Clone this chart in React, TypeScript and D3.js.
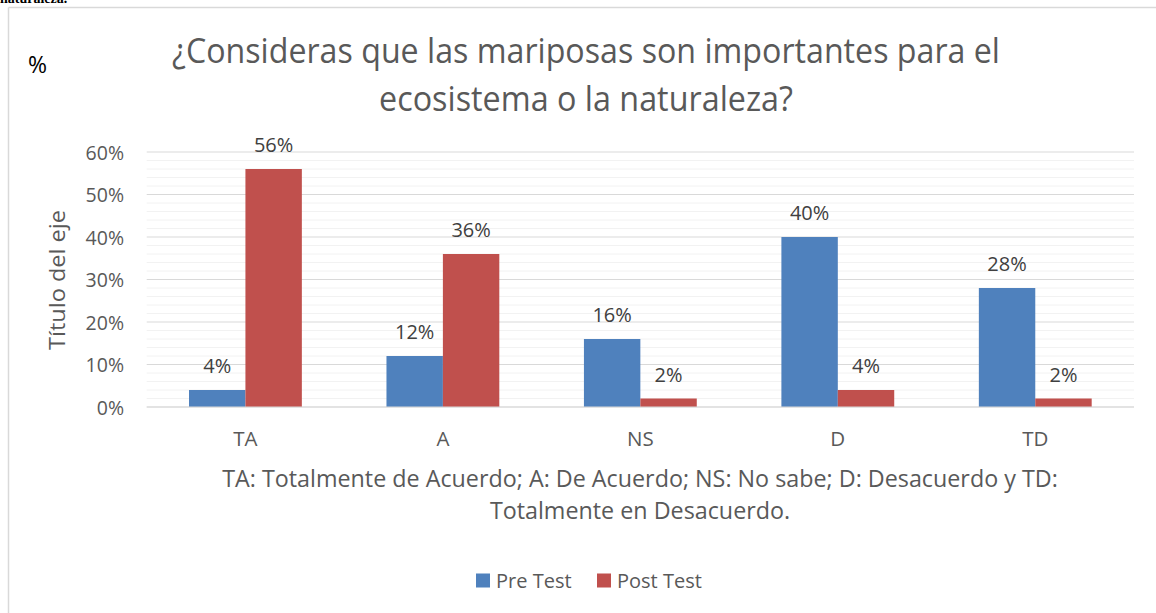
import React from "react";
import * as d3 from "d3";

const categories = ["TA", "A", "NS", "D", "TD"];
const preTest = [4, 12, 16, 40, 28];
const postTest = [56, 36, 2, 4, 2];
const seriesNames = ["Pre Test", "Post Test"];
const yTicks = [0, 10, 20, 30, 40, 50, 60];
const titleLines = ["¿Consideras que las mariposas son importantes para el", "ecosistema o la naturaleza?"];
const noteLines = ["TA: Totalmente de Acuerdo; A: De Acuerdo; NS: No sabe; D: Desacuerdo y TD:", "Totalmente en Desacuerdo."];

const W = 1156, H = 613;
const FONT = "'Open Sans', sans-serif";
const colors = ["#4f81bd", "#c0504d"];

export default function App() {
  const left = 146.7, right = 1134, top = 152, bottom = 407;
  const x0 = d3.scaleBand<string>().domain(categories).range([left, right]).paddingInner(0).paddingOuter(0);
  const y = d3.scaleLinear().domain([0, 60]).range([bottom, top]);
  const bw = x0.bandwidth() / (2 + 1.5);
  const minor = d3.range(0, 61, 2).filter((v) => v % 10 !== 0);
  const series = [preTest, postTest];
  const titleWidths = [828, 414];
  return (
    <svg width={W} height={H} style={{ position: "absolute", left: 0, top: 0, background: "#fff" }} fontFamily={FONT}>
      <rect x={0} y={0} width={W} height={H} fill="#fff" />
      <text x={0} y={3} fontFamily="'Liberation Serif', serif" fontWeight="bold" fontSize={14} fill="#000">naturaleza.</text>
      <line x1={8.5} y1={7.5} x2={W} y2={7.5} stroke="#d9d9d9" strokeWidth={1.5} />
      <line x1={8.5} y1={7.5} x2={8.5} y2={H} stroke="#d9d9d9" strokeWidth={1.5} />
      <text x={28} y={73} fontSize={23} fill="#000">%</text>
      {titleLines.map((t, i) => (
        <text key={i} x={586 - titleWidths[i] / 2} y={63 + i * 48} fontSize={34} fill="#595959"
          textLength={titleWidths[i]} lengthAdjust="spacingAndGlyphs">{t}</text>
      ))}
      {minor.map((v) => (
        <line key={"m" + v} x1={left} x2={right} y1={y(v)} y2={y(v)} stroke="#f2f2f2" strokeWidth={1} />
      ))}
      {yTicks.map((v) => (
        <g key={v}>
          <line x1={left} x2={right} y1={y(v)} y2={y(v)} stroke="#d9d9d9" strokeWidth={1.2} />
          <text x={124} y={y(v) + 7.5} fontSize={19.5} fill="#595959" textAnchor="end">{v}%</text>
        </g>
      ))}
      <text transform={`translate(65,280) rotate(-90)`} x={-70} fontSize={22.5} fill="#595959"
        textLength={140} lengthAdjust="spacingAndGlyphs">Título del eje</text>
      {categories.map((c, i) => {
        const cx = (x0(c) as number) + x0.bandwidth() / 2;
        return (
          <g key={c}>
            {series.map((s, j) => {
              const bx = cx - bw + j * bw;
              return (
                <g key={j}>
                  <rect x={bx} y={y(s[i])} width={bw} height={bottom - y(s[i])} fill={colors[j]} />
                  <text x={bx + bw / 2} y={y(s[i]) - 17} fontSize={20} fill="#404040" textAnchor="middle">{s[i]}%</text>
                </g>
              );
            })}
            <text x={cx} y={446} fontSize={20.5} fill="#595959" textAnchor="middle">{c}</text>
          </g>
        );
      })}
      <line x1={left} x2={right} y1={bottom} y2={bottom} stroke="#d9d9d9" strokeWidth={1.2} />
      {noteLines.map((t, i) => (
        <text key={i} x={640} y={487 + i * 32} fontSize={23.3} fill="#595959" textAnchor="middle">{t}</text>
      ))}
      {seriesNames.map((n, i) => {
        const lx = [476, 597][i];
        return (
          <g key={n}>
            <rect x={lx} y={573.5} width={14} height={14} fill={colors[i]} />
            <text x={lx + 20} y={588} fontSize={20} fill="#595959">{n}</text>
          </g>
        );
      })}
    </svg>
  );
}
